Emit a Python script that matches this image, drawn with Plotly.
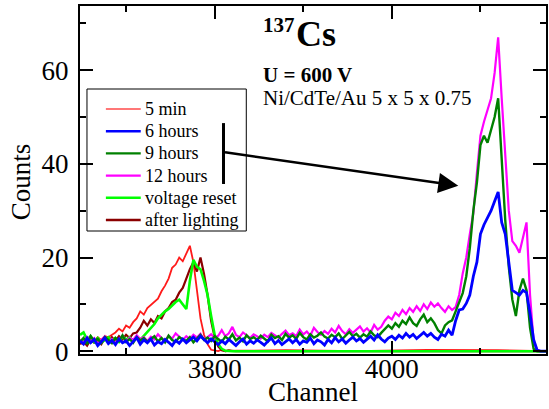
import plotly.graph_objects as go

# ---------------- data ----------------
channels = list(range(3648, 4177, 4))  # channel bins, 133 values

counts_6h = [
    2.2, 1.5, 2.8, 1.8, 2.5, 1.2, 2.0, 2.8, 1.6, 2.3,
    1.4, 2.6, 1.8, 2.2, 1.2, 2.0, 2.9, 1.5, 2.4, 1.8,
    2.6, 1.3, 2.0, 1.6, 2.5, 1.9, 1.2, 2.3, 1.7, 2.6,
    1.8, 2.4, 3.0, 2.2, 3.2, 2.5, 1.8, 2.6, 2.0, 1.4,
    2.2, 1.6, 2.5, 1.8, 1.2, 2.0, 2.6, 1.5, 2.2, 1.7,
    2.4, 1.9, 1.3, 2.1, 2.8, 1.6, 2.3, 1.4, 2.0, 2.6,
    1.8, 2.5, 1.5, 2.2, 1.9, 2.8, 1.6, 2.4, 2.0, 1.3,
    2.5, 1.8, 2.9, 2.0, 2.6, 1.7, 2.4, 3.0, 2.2, 2.7,
    1.9, 2.6, 3.2, 2.4, 3.5, 2.6, 2.0, 2.8, 3.2, 2.5,
    3.4, 2.8, 3.8, 3.0, 3.6, 2.7, 3.3, 4.0, 3.2, 3.8,
    3.0, 2.5, 3.6, 3.2, 4.5, 3.4, 6.5, 8.8, 9.0, 10.2,
    12.0, 16.0, 19.0, 25.0, 27.0, 28.5, 30.0, 32.0, 34.0, 27.5,
    25.0, 19.0, 13.0, 12.5, 12.0, 13.0, 12.5, 8.0, 2.5, 0.2,
    0.0, 0.0, 0.0,
]

counts_9h = [
    2.0, 2.8, 1.5, 3.2, 2.2, 2.6, 1.8, 3.0, 2.4, 1.7,
    2.8, 2.2, 3.4, 2.0, 2.6, 1.8, 3.0, 2.3, 2.8, 2.0,
    2.6, 3.2, 2.1, 2.8, 1.9, 3.3, 2.4, 2.0, 3.0, 2.5,
    2.2, 3.0, 1.9, 2.7, 3.5, 2.4, 2.9, 2.2, 3.2, 2.6,
    2.0, 3.1, 2.5, 3.6, 2.3, 2.9, 2.1, 3.4, 2.6, 3.0,
    2.4, 3.3, 2.7, 2.1, 3.5, 2.8, 3.2, 2.4, 3.7, 2.9,
    3.4, 2.6, 3.9, 3.0, 2.5, 3.6, 2.9, 3.3, 4.0, 3.1,
    2.7, 3.5, 3.0, 3.8, 2.6, 3.4, 4.1, 3.2, 3.7, 2.9,
    3.6, 3.1, 4.2, 3.4, 3.0, 3.9, 4.6, 5.5, 4.8, 6.0,
    5.2, 6.5, 5.8, 7.2, 6.0, 5.4, 6.8, 7.8, 6.2, 7.0,
    6.0, 4.5, 3.8, 5.5, 6.2, 6.6, 8.5, 10.5, 12.4, 16.0,
    22.0, 30.0, 36.0, 44.0, 46.0, 44.5, 47.0, 50.0, 54.0, 40.0,
    28.0, 18.0, 11.0, 7.5, 13.0, 15.5, 13.0, 5.0, 0.5, 0.0,
    0.0, 0.0, 0.0,
]

counts_12h = [
    2.5, 1.8, 3.0, 2.2, 2.8, 1.6, 2.4, 3.2, 2.0, 2.6,
    1.9, 2.7, 3.3, 2.1, 2.9, 2.4, 3.4, 2.6, 3.0, 2.2,
    3.1, 2.5, 3.6, 2.8, 2.2, 3.3, 2.7, 3.8, 3.0, 2.4,
    3.2, 2.6, 3.5, 2.9, 3.7, 2.5, 3.0, 3.6, 2.8, 3.3,
    4.5, 3.2, 3.8, 5.2, 3.5, 3.0, 4.0, 3.4, 2.8, 3.6,
    3.1, 2.7, 3.5, 3.0, 3.9, 3.3, 2.9, 3.7, 4.4, 3.4,
    3.8, 3.2, 4.6, 3.6, 4.2, 3.3, 5.0, 4.1, 3.5, 4.3,
    3.7, 4.8, 4.0, 5.4, 4.3, 3.6, 4.7, 3.9, 4.5, 5.3,
    4.2, 4.9, 4.0, 5.6, 4.6, 5.2, 6.5, 7.4, 6.8, 8.2,
    7.5, 8.8, 7.9, 9.2, 8.4, 9.6, 8.6, 10.0, 9.0, 10.4,
    9.5, 10.2, 9.2, 8.4, 9.6, 8.8, 9.4, 12.0, 16.6, 20.0,
    25.0, 29.5, 38.0, 46.0, 49.0, 51.5, 54.0, 59.4, 67.0, 54.0,
    42.0, 30.0, 23.5, 22.5, 21.0, 24.0, 27.5, 12.0, 2.0, 0.3,
    0.0, 0.0, 0.0,
]

left_channels = channels[:45]  # 3648 .. 3824
counts_5min_left = [
    2.0, 1.5, 2.5, 1.8, 2.2, 3.0, 2.4, 3.2, 3.0, 3.5,
    4.0, 4.8, 4.2, 5.5, 5.0, 6.2, 7.0, 8.5, 7.8, 9.2,
    9.8, 10.5, 11.2, 12.8, 14.0, 15.5, 17.8, 18.5, 20.0, 19.2,
    20.8, 22.5, 19.0, 13.0, 7.0, 3.5, 1.5, 0.3, 0.2, 0.0,
    0.3, 0.0, 0.2, 0.0, 0.1,
]
counts_lighting_left = [
    1.5, 2.0, 1.2, 2.5, 1.8, 2.2, 1.5, 2.8, 2.0, 3.0,
    2.2, 3.2, 2.5, 3.5, 2.8, 3.8, 4.0, 5.0, 6.5, 5.5,
    6.8, 6.0, 7.5, 7.0, 8.5, 9.2, 10.5, 11.0, 12.5, 13.5,
    15.5, 17.5, 19.0, 17.0, 20.0, 16.5, 12.0, 6.5, 3.0, 1.0,
    0.2, 0.0, 0.1, 0.0, 0.0,
]
counts_reset_left = [
    3.5, 4.0, 2.5, 3.2, 2.0, 2.8, 1.8, 2.5, 3.0, 2.2,
    2.8, 2.0, 3.2, 2.5, 3.0, 2.2, 2.8, 2.4, 3.2, 4.0,
    5.0, 5.8, 7.0, 7.8, 8.5, 9.0, 9.8, 10.5, 11.0, 10.0,
    9.0, 15.0, 19.5, 18.0, 17.5, 15.0, 12.0, 7.5, 3.5, 1.5,
    0.5, 0.1, 0.0, 0.0, 0.0,
]
tail_channels = [3880, 3960, 4040, 4120, 4176]
counts_5min_tail = [0.2, 0.0, 0.3, 0.2, 0.0]
counts_lighting_tail = [0.0, 0.0, 0.0, 0.0, 0.0]
counts_reset_tail = [0.0, 0.0, 0.0, 0.0, 0.0]

legend_labels = ["5 min", "6 hours", "9 hours", "12 hours", "voltage reset", "after lighting"]
legend_colors = ["#ff4a4a", "#0000ff", "#008000", "#ff00ff", "#00ff00", "#8b0000"]
legend_widths = [1.6, 2.6, 2.2, 2.2, 2.6, 2.6]

# ---------------- figure ----------------
FONT = "Liberation Serif, Times New Roman, serif"
fig = go.Figure()

def add(x, y, idx, color, width):
    fig.add_trace(go.Scatter(x=x, y=y, mode="lines", name=legend_labels[idx],
                             line=dict(color=color, width=width), showlegend=False))

add(left_channels + tail_channels, counts_5min_left + counts_5min_tail, 0, "#ff1a1a", 1.8)
add(left_channels + tail_channels, counts_lighting_left + counts_lighting_tail, 5, "#8b0000", 2.2)
add(left_channels + tail_channels, counts_reset_left + counts_reset_tail, 4, "#00ff00", 2.6)
add(channels, counts_12h, 3, "#ff00ff", 2.2)
add(channels, counts_9h, 2, "#008000", 2.4)
add(channels, counts_6h, 1, "#0000ff", 2.8)

W, H = 549, 409
ML, MR, MT, MB = 80, 1, 6, 55
PW, PH = W - ML - MR, H - MT - MB

def px(xp):
    return (xp - ML) / PW

def py(yp):
    return (H - MB - yp) / PH

axis_common = dict(showline=True, linecolor="black", linewidth=2, mirror="ticks",
                   ticks="inside", ticklen=13, tickwidth=2, tickcolor="black",
                   showgrid=False, zeroline=False,
                   tickfont=dict(family=FONT, size=27, color="black"))

fig.update_xaxes(range=[3648, 4174], tick0=3800, dtick=200, ticklabelstandoff=-10,
                 minor=dict(dtick=100, ticks="inside", ticklen=6, tickwidth=2, tickcolor="black"),
                 **axis_common)
fig.update_yaxes(range=[-0.6, 73.7], tick0=0, dtick=20, ticklabelstandoff=4,
                 minor=dict(dtick=10, ticks="inside", ticklen=6, tickwidth=2, tickcolor="black"),
                 **axis_common)

fig.update_layout(
    width=W, height=H,
    margin=dict(l=ML, r=MR, t=MT, b=MB),
    paper_bgcolor="white", plot_bgcolor="white",
    font=dict(family=FONT, color="black"),
    showlegend=False,
)

# legend: frame, line samples and labels
fig.add_shape(type="rect", xref="paper", yref="paper",
              x0=px(87), x1=px(247), y0=py(231), y1=py(89),
              line=dict(color="black", width=1))
row_y0, row_dy = 109, 22.2
for i, (lab, col, lw) in enumerate(zip(legend_labels, legend_colors, legend_widths)):
    yy = py(row_y0 + i * row_dy)
    fig.add_shape(type="line", xref="paper", yref="paper",
                  x0=px(106), x1=px(141), y0=yy, y1=yy,
                  line=dict(color=col, width=lw))
    fig.add_annotation(x=px(143), y=yy, xref="paper", yref="paper", xanchor="left",
                       yanchor="middle", showarrow=False, text=lab,
                       font=dict(family=FONT, size=18, color="black"))

# vertical bar grouping the long-time curves
fig.add_shape(type="line", xref="x", yref="y", x0=3810, x1=3810, y0=35.7, y1=48.7,
              line=dict(color="black", width=3))
# arrow
fig.add_annotation(x=4075, y=35.3, ax=3810, ay=42.5, xref="x", yref="y",
                   axref="x", ayref="y", text="", showarrow=True,
                   arrowhead=2, arrowsize=1.6, arrowwidth=2.5, arrowcolor="black",
                   standoff=0, startstandoff=0)

# text labels
fig.add_annotation(x=px(262), y=py(25), xref="paper", yref="paper", xanchor="left",
                   yanchor="middle", showarrow=False, text="<b>137</b>",
                   font=dict(family=FONT, size=21, color="black"))
fig.add_annotation(x=px(295), y=py(34), xref="paper", yref="paper", xanchor="left",
                   yanchor="middle", showarrow=False, text="<b>Cs</b>",
                   font=dict(family=FONT, size=36, color="black"))
fig.add_annotation(x=px(262), y=py(75), xref="paper", yref="paper", xanchor="left",
                   yanchor="middle", showarrow=False, text="<b>U = 600 V</b>",
                   font=dict(family=FONT, size=21, color="black"))
fig.add_annotation(x=px(262), y=py(98), xref="paper", yref="paper", xanchor="left",
                   yanchor="middle", showarrow=False, text="Ni/CdTe/Au 5 x 5 x 0.75",
                   font=dict(family=FONT, size=21, color="black"))
# axis titles
fig.add_annotation(x=px(314), y=py(392), xref="paper", yref="paper", xanchor="center",
                   yanchor="middle", showarrow=False, text="Channel",
                   font=dict(family=FONT, size=27, color="black"))
fig.add_annotation(x=px(21), y=py(182), xref="paper", yref="paper", xanchor="center",
                   yanchor="middle", showarrow=False, text="Counts", textangle=-90,
                   font=dict(family=FONT, size=27, color="black"))

fig.write_html("out.html")
